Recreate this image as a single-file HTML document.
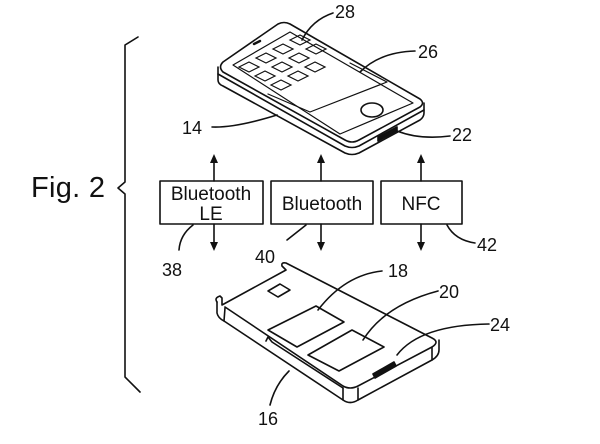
<!DOCTYPE html>
<html><head><meta charset="utf-8"><style>
html,body{margin:0;padding:0;background:#fff;}
svg{display:block}
text{font-family:"Liberation Sans","DejaVu Sans",sans-serif;fill:#111}
</style></head><body>
<svg width="600" height="444" viewBox="0 0 600 444" xmlns="http://www.w3.org/2000/svg">
<g fill="none" stroke="#111" stroke-width="1.6" stroke-linejoin="round" stroke-linecap="round">
<!-- brace -->
<path d="M138,37 L125,45 L125,182 L118,188 L125,194 L125,377 L140,392"/>
<!-- phone -->
<path d="M223,62 Q218,67 223,72 L345,140 Q352,144 359,140 L420,107 Q425,103 420,99 L290,24 Q284,21 278,24 Z"/>
<path d="M218,67 L218,80 Q218,84 223,86 L345,153 Q352,156 359,153 L420,120 Q424,117 424,113 L424,103"/>
<path d="M218,74 L345,146 Q352,149 359,146 L424,110"/>
<path d="M233,65 L340,134 L413,103 L290,32 Z" stroke-width="1.2"/>
<path d="M254,44 L260,41" stroke-width="2.5"/>
<path d="M268,94 L310,112 L387,82 L350,63" stroke-width="1.2"/>
<ellipse cx="372" cy="110" rx="11" ry="7"/>
<path d="M378,137 L397,127 L397,131 L378,141 Z" fill="#111"/>
<!-- case -->
<path d="M217,302 L217,313 Q218,318 224,321 L343,400 Q350,405 358,400 L432,360 Q439,356 439,350 L439,340"/>
<path d="M217,302 Q214,298 220,296 L222,298 L222,305 L286,270 L282,266 Q281,262 286,263 L432,338 Q440,342 432,347 L358,386 Q350,390 343,386 L225,307"/>
<path d="M224,321 L225,308 M343,400 L343,388 M358,400 L358,388 M432,360 L432,347"/>
<path d="M266,341 L268,337 L272,342 L343,388"/>
<path d="M268,291 L280,284 L290,290 L278,297 Z"/>
<path d="M268,330 L316,306 L344,322 L297,347 Z"/>
<path d="M308,355 L352,330 L384,347 L339,371 Z"/>
<path d="M373,374 L394,362 L396,366 L375,378 Z" fill="#111"/>
<!-- boxes -->
<rect x="160" y="181" width="103" height="43"/>
<rect x="271" y="181" width="102" height="43"/>
<rect x="381" y="181" width="81" height="43"/>
<!-- arrows -->
<path d="M214,181 V163 M214,224 V242 M321,181 V163 M321,224 V242 M421,181 V163 M421,224 V242"/>
<!-- leaders -->
<path d="M302,40 Q312,20 333,13"/>
<path d="M360,72 Q380,52 415,51"/>
<path d="M212,127 Q235,128 277,115"/>
<path d="M397,131 Q420,140 450,136"/>
<path d="M193,225 Q180,235 179,250"/>
<path d="M306,225 L287,240"/>
<path d="M447,225 Q455,240 475,243"/>
<path d="M318,310 Q345,275 382,271"/>
<path d="M363,340 Q385,305 438,291"/>
<path d="M397,355 Q420,325 489,324"/>
<path d="M289,371 Q275,385 270,405"/>
</g>
<g fill="none" stroke="#111" stroke-width="1.2">
<path d="M290,40 l10,-5 l10,5 l-10,5z M306,49 l10,-5 l10,5 l-10,5z M273,49 l10,-5 l10,5 l-10,5z M289,58 l10,-5 l10,5 l-10,5z M305,67 l10,-5 l10,5 l-10,5z M256,58 l10,-5 l10,5 l-10,5z M272,67 l10,-5 l10,5 l-10,5z M288,76 l10,-5 l10,5 l-10,5z M239,67 l10,-5 l10,5 l-10,5z M255,76 l10,-5 l10,5 l-10,5z M271,85 l10,-5 l10,5 l-10,5z"/>
</g>
<g fill="#111" stroke="none">
<path d="M210,163 L214,154 L218,163Z M210,242 L214,251 L218,242Z M317,163 L321,154 L325,163Z M317,242 L321,251 L325,242Z M417,163 L421,154 L425,163Z M417,242 L421,251 L425,242Z"/>
</g>
<text x="31" y="197" font-size="29" textLength="74">Fig. 2</text>
<text x="211" y="200" font-size="19" text-anchor="middle">Bluetooth</text>
<text x="211" y="220" font-size="19" text-anchor="middle">LE</text>
<text x="322" y="210" font-size="19" text-anchor="middle">Bluetooth</text>
<text x="421" y="210" font-size="19" text-anchor="middle">NFC</text>
<g font-size="18">
<text x="335" y="18">28</text>
<text x="418" y="58">26</text>
<text x="182" y="134">14</text>
<text x="452" y="141">22</text>
<text x="162" y="276">38</text>
<text x="255" y="263">40</text>
<text x="477" y="251">42</text>
<text x="388" y="277">18</text>
<text x="439" y="298">20</text>
<text x="490" y="331">24</text>
<text x="258" y="425">16</text>
</g>
</svg>
</body></html>
